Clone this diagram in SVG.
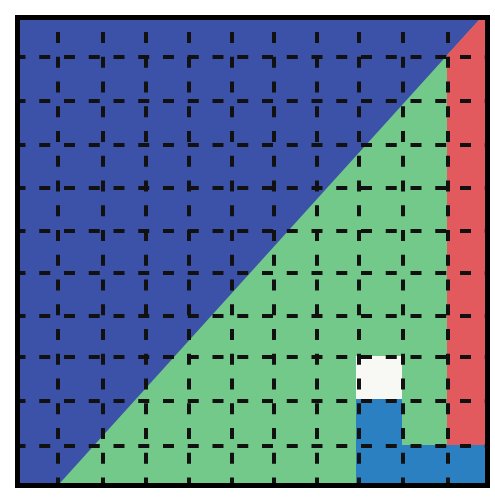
<svg xmlns="http://www.w3.org/2000/svg" width="495" height="500" viewBox="0 0 495 500">
<style>
.h{stroke:#111;stroke-width:4;stroke-dasharray:11 13.75;stroke-dashoffset:5.5;fill:none}
.v{stroke:#111;stroke-width:4;stroke-dasharray:11 13.75;stroke-dashoffset:12.75;fill:none}
</style>
<rect width="495" height="500" fill="#ffffff"/>
<g id="regions">
<rect x="20" y="20" width="465" height="463" fill="#72c98a"/>
<polygon points="20,20 479,20 60,483 20,483" fill="#3c52a8"/>
<polygon points="479,20 485,20 485,445 447,445 447,55" fill="#e35a5e"/>
<rect x="356" y="356" width="46" height="43" fill="#f8f8f4"/>
<rect x="356" y="399" width="46" height="46" fill="#2a80c0"/>
<rect x="356" y="445" width="129" height="38" fill="#2a80c0"/>
</g>
<g id="grid">
<line class="h" x1="20" y1="57" x2="485" y2="57"/>
<line class="h" x1="20" y1="101" x2="485" y2="101"/>
<line class="h" x1="20" y1="145" x2="485" y2="145"/>
<line class="h" x1="20" y1="188" x2="485" y2="188"/>
<line class="h" x1="20" y1="231" x2="485" y2="231"/>
<line class="h" x1="20" y1="273" x2="485" y2="273"/>
<line class="h" x1="20" y1="316" x2="485" y2="316"/>
<line class="h" x1="20" y1="357" x2="485" y2="357"/>
<line class="h" x1="20" y1="401" x2="485" y2="401"/>
<line class="h" x1="20" y1="446" x2="485" y2="446"/>
<line class="v" x1="58" y1="20" x2="58" y2="483"/>
<line class="v" x1="103" y1="20" x2="103" y2="483"/>
<line class="v" x1="146" y1="20" x2="146" y2="483"/>
<line class="v" x1="189" y1="20" x2="189" y2="483"/>
<line class="v" x1="232" y1="20" x2="232" y2="483"/>
<line class="v" x1="274" y1="20" x2="274" y2="483"/>
<line class="v" x1="317" y1="20" x2="317" y2="483"/>
<line class="v" x1="359" y1="20" x2="359" y2="483"/>
<line class="v" x1="403" y1="20" x2="403" y2="483"/>
<line class="v" x1="448" y1="20" x2="448" y2="483"/>
</g>
<rect id="frame" x="17.5" y="17.5" width="470" height="468" fill="none" stroke="#000" stroke-width="5"/>
</svg>
